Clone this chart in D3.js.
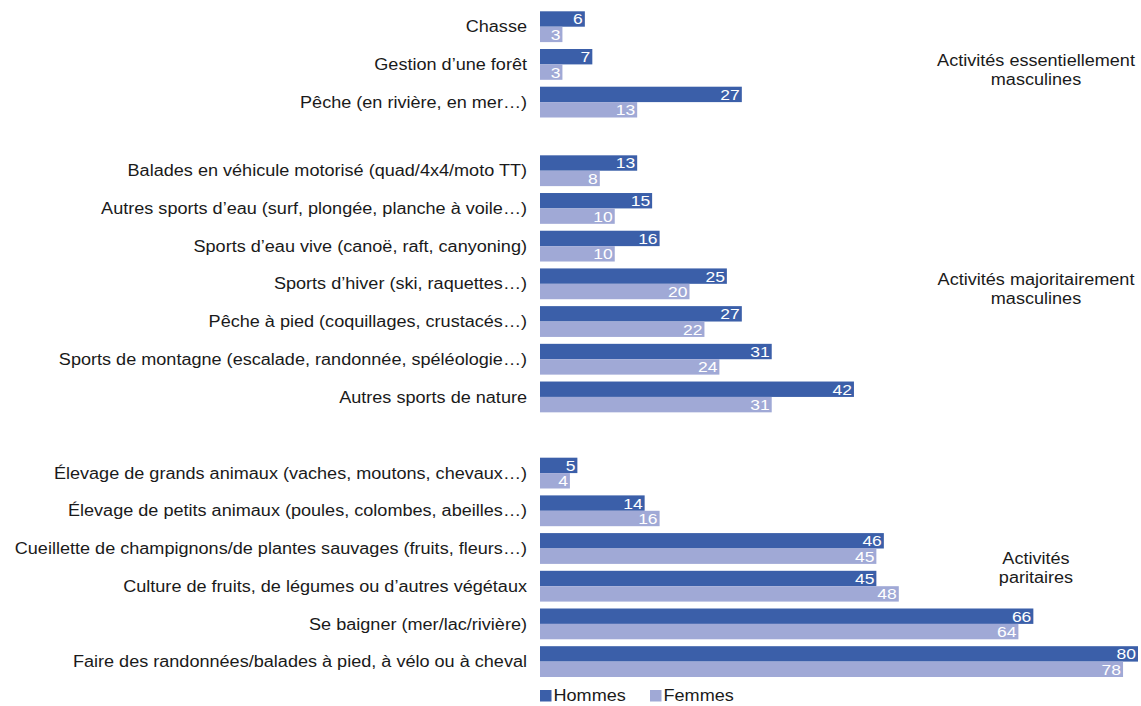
<!DOCTYPE html>
<html>
<head>
<meta charset="utf-8">
<script src="https://cdn.jsdelivr.net/npm/d3@7"></script>
<style>
  html, body { margin: 0; padding: 0; background: #ffffff; }
  svg { display: block; font-family: "Liberation Sans", Arial, sans-serif; }
</style>
</head>
<body>
<svg id="chart" width="1141" height="706"></svg>
<script>
// ---- Data ----
const categories = [
  "Chasse",
  "Gestion d’une forêt",
  "Pêche (en rivière, en mer…)",
  "Balades en véhicule motorisé (quad/4x4/moto TT)",
  "Autres sports d’eau (surf, plongée, planche à voile…)",
  "Sports d’eau vive (canoë, raft, canyoning)",
  "Sports d’hiver (ski, raquettes…)",
  "Pêche à pied (coquillages, crustacés…)",
  "Sports de montagne (escalade, randonnée, spéléologie…)",
  "Autres sports de nature",
  "Élevage de grands animaux (vaches, moutons, chevaux…)",
  "Élevage de petits animaux (poules, colombes, abeilles…)",
  "Cueillette de champignons/de plantes sauvages (fruits, fleurs…)",
  "Culture de fruits, de légumes ou d’autres végétaux",
  "Se baigner (mer/lac/rivière)",
  "Faire des randonnées/balades à pied, à vélo ou à cheval"
];
const hommes = [6, 7, 27, 13, 15, 16, 25, 27, 31, 42, 5, 14, 46, 45, 66, 80];
const femmes = [3, 3, 13, 8, 10, 10, 20, 22, 24, 31, 4, 16, 45, 48, 64, 78];
const groupOf = [0,0,0, 1,1,1,1,1,1,1, 2,2,2,2,2,2];
const groupLabels = [
  ["Activités essentiellement", "masculines"],
  ["Activités majoritairement", "masculines"],
  ["Activités", "paritaires"]
];
const seriesNames = ["Hommes", "Femmes"];
const colors = ["#3b5fa9", "#a0a9d6"];

// ---- Layout ----
const svg = d3.select("#chart");
const SX = 1.13; // horizontal stretch of the original typeface
const groupGapExtra = [0, 0.82, 1.02];
const slot = [];
let acc = 0;
categories.forEach((c, i) => {
  if (i > 0 && groupOf[i] !== groupOf[i - 1]) acc += 1 + groupGapExtra[groupOf[i]];
  else if (i > 0) acc += 1;
  slot.push(acc);
});
const y = d3.scaleLinear().domain([0, slot[slot.length - 1]]).range([26.7, 661.6]);
const x = d3.scaleLinear().domain([0, 80]).range([540, 1138]);
const barH = 15.4;

function stretchedText(sel, fx, fy, txt, anchor, size, fill) {
  sel.attr("transform", (d, i) => `translate(${fx(d, i)},${fy(d, i)}) scale(${SX},1)`)
    .append("text")
    .attr("text-anchor", anchor)
    .attr("dy", "0.35em")
    .attr("font-size", size)
    .attr("fill", fill)
    .text(txt);
}

// category labels
stretchedText(
  svg.append("g").selectAll("g").data(categories).join("g"),
  () => 527, (d, i) => y(slot[i]), d => d, "end", 16, "#1a1a1a");

// bars
const series = [hommes, femmes];
series.forEach((vals, s) => {
  const g = svg.append("g");
  g.selectAll("rect").data(vals).join("rect")
    .attr("x", x(0))
    .attr("y", (d, i) => y(slot[i]) - (s === 0 ? barH : 0))
    .attr("width", d => x(d) - x(0))
    .attr("height", barH)
    .attr("fill", colors[s]);
  stretchedText(
    g.selectAll("g").data(vals).join("g"),
    d => x(d) - 2, (d, i) => y(slot[i]) + (s === 0 ? -barH / 2 : barH / 2),
    d => d, "end", 15.5, "#ffffff");
});

// group labels
const groupLabelY = [70, 288.5, 567.5];
groupLabels.forEach((lines, gI) => {
  stretchedText(
    svg.append("g").selectAll("g").data(lines).join("g"),
    () => 1036, (d, k) => groupLabelY[gI] - 9.5 + k * 19,
    d => d, "middle", 16, "#1a1a1a");
});

// legend
const legX = [540, 650];
const legend = svg.append("g");
legend.selectAll("rect").data(seriesNames).join("rect")
  .attr("x", (d, s) => legX[s]).attr("y", 690).attr("width", 11.5).attr("height", 11.5)
  .attr("fill", (d, s) => colors[s]);
stretchedText(
  legend.selectAll("g").data(seriesNames).join("g"),
  (d, s) => legX[s] + 13.5, () => 695.5, d => d, "start", 16, "#1a1a1a");
</script>
</body>
</html>
